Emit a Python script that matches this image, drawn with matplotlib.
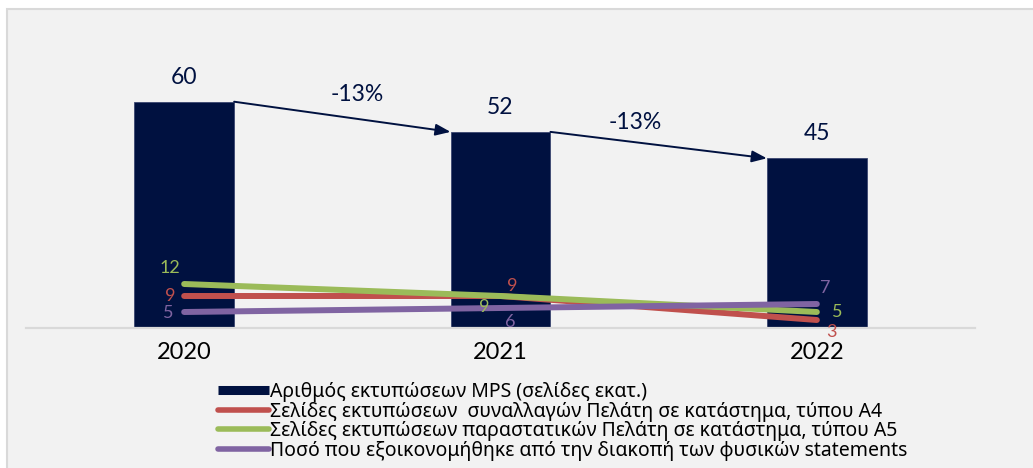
import matplotlib.pyplot as plt
import matplotlib.patches as mpatches
from matplotlib.lines import Line2D

plt.rcParams['font.family'] = ['Lato', 'DejaVu Sans']

years = ['2020', '2021', '2022']
mps = [60, 52, 45]
a4 = [9, 9, 3]
a5 = [12, 9, 5]
saved = [5, 6, 7]

labels = [
    'Αριθμός εκτυπώσεων MPS (σελίδες εκατ.)',
    'Σελίδες εκτυπώσεων  συναλλαγών Πελάτη σε κατάστημα, τύπου Α4',
    'Σελίδες εκτυπώσεων παραστατικών Πελάτη σε κατάστημα, τύπου Α5',
    'Ποσό που εξοικονομήθηκε από την διακοπή των φυσικών statements',
]

navy = '#001140'
red = '#c0504d'
green = '#9bbb59'
purple = '#8064a2'

W, H = 1033, 468
fig = plt.figure(figsize=(W / 100, H / 100), dpi=100)
fig.patch.set_facecolor('white')
fig.patches.append(mpatches.Rectangle((7 / W, -0.1), 1.1, 1.1 - 9 / H,
                                      transform=fig.transFigure, facecolor='#f2f2f2',
                                      edgecolor='#d9d9d9', linewidth=1.5, zorder=-10))

ax = fig.add_axes([26 / W, 140 / H, 949 / W, 264 / H])
ax.patch.set_visible(False)
x = list(range(len(years)))
bw = 100 / 316.5
ax.bar(x, mps, width=bw, color=navy, edgecolor='#3a4670', linewidth=0.6, zorder=2)
ax.set_xlim(-0.5, 2.5)
ax.set_ylim(0, 70)
for s in ['top', 'right', 'left']:
    ax.spines[s].set_visible(False)
ax.spines['bottom'].set_color('#d9d9d9')
ax.spines['bottom'].set_linewidth(1.6)
ax.set_yticks([])
ax.set_xticks(x)
ax.set_xticklabels(years, fontsize=17, color='black')
ax.tick_params(axis='x', length=0, pad=10)

for xi, v in zip(x, mps):
    ax.annotate(str(v), (xi, v), xytext=(0, 14), textcoords='offset pixels',
                ha='center', va='bottom', fontsize=16.5, color=navy)

# arrows with % change
for i in range(len(mps) - 1):
    x0, y0 = x[i] + bw / 2, mps[i]
    x1, y1 = x[i + 1] - bw / 2, mps[i + 1]
    ax.annotate('', xy=(x1, y1), xytext=(x0, y0),
                arrowprops=dict(arrowstyle='-|>,head_length=0.9,head_width=0.35',
                                color=navy, lw=1.4, shrinkA=0, shrinkB=0), zorder=3)
    pct = round((mps[i + 1] - mps[i]) / mps[i] * 100)
    off = [(15, 22), (-23, 23)][i]
    ax.annotate(f'{pct}%', ((x0 + x1) / 2, (y0 + y1) / 2), xytext=off,
                textcoords='offset pixels', ha='center', va='center',
                fontsize=16.5, color=navy)

ax2 = ax.twinx()
ax2.set_ylim(1, 67)
ax2.axis('off')
series = [(a4, red), (a5, green), (saved, purple)]
for vals, c in series:
    ax2.plot(x, vals, color=c, lw=4.3, solid_capstyle='round', zorder=4)

offsets = {
    'a4': [(-14, 0), (12, 10), (15, -12)],
    'a5': [(-14, 16), (-16, -11), (20, 0)],
    'saved': [(-16, -1), (10, -14), (8, 16)],
}
for (vals, c), key in zip(series, ['a4', 'a5', 'saved']):
    for xi, v, off in zip(x, vals, offsets[key]):
        ax2.annotate(str(v), (xi, v), xytext=off, textcoords='offset pixels',
                     ha='center', va='center', fontsize=13, color=c, zorder=6)

handles = [
    Line2D([], [], color=navy, lw=6.5, solid_capstyle='butt'),
    Line2D([], [], color=red, lw=4, solid_capstyle='round'),
    Line2D([], [], color=green, lw=4, solid_capstyle='round'),
    Line2D([], [], color=purple, lw=4, solid_capstyle='round'),
]
fig.legend(handles, labels, loc='upper left', bbox_to_anchor=(218 / W, 1 - 382 / H),
           frameon=False, prop={'family': ['Noto Sans', 'DejaVu Sans'], 'size': 14},
           handlelength=2.6, handletextpad=0.1, labelspacing=-0.02,
           borderpad=0, borderaxespad=0)

fig.savefig('out.png', dpi=100, facecolor=fig.get_facecolor())
